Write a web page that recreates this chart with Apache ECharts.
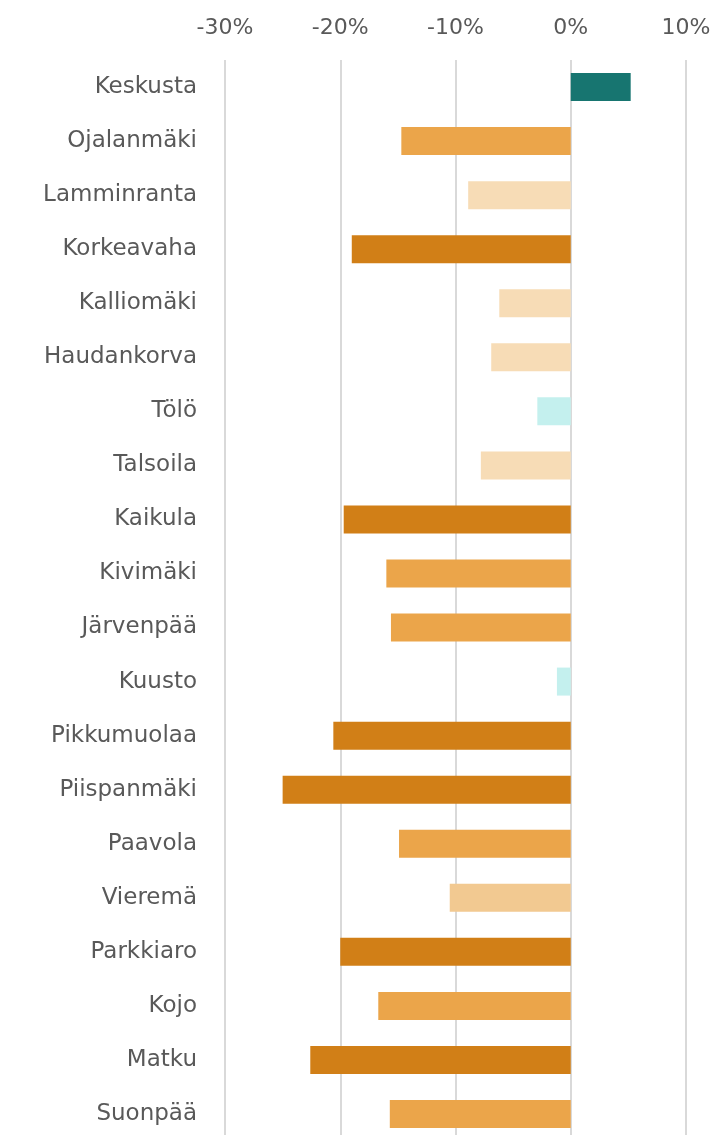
<!DOCTYPE html>
<html><head><meta charset="utf-8">
<script src="https://cdn.jsdelivr.net/npm/echarts@6/dist/echarts.min.js"></script>
<style>html,body{margin:0;padding:0;background:#fff;overflow:hidden}#c{width:714px;height:1141px}</style>
</head><body><div id="c"></div>
<script>
const categories = ["Keskusta","Ojalanmäki","Lamminranta","Korkeavaha","Kalliomäki","Haudankorva","Tölö","Talsoila","Kaikula","Kivimäki","Järvenpää","Kuusto","Pikkumuolaa","Piispanmäki","Paavola","Vieremä","Parkkiaro","Kojo","Matku","Suonpää"];
const values = [5.2,-14.7,-8.9,-19.0,-6.2,-6.9,-2.9,-7.8,-19.7,-16.0,-15.6,-1.2,-20.6,-25.0,-14.9,-10.5,-20.0,-16.7,-22.6,-15.7];
const groups = ["teal","orange","light","dark","light","light","cyan","light","dark","orange","orange","cyan","dark","dark","orange","mid","dark","orange","dark","orange"];
const tickValues = [-30,-20,-10,0,10];
const palette = {teal:"#177570",dark:"#d17f17",orange:"#eba54a",light:"#f7dcb6",mid:"#f2c991",cyan:"#c4f0ee"};

const chart = echarts.init(document.getElementById('c'));
chart.setOption({
  animation:false,
  grid:{left:225,right:28,top:60,bottom:0,containLabel:false},
  xAxis:{type:'value',position:'top',min:tickValues[0],max:tickValues[tickValues.length-1],interval:10,
    axisLine:{show:false},axisTick:{show:false},
    splitLine:{lineStyle:{color:'#d9d9d9',width:2}},
    axisLabel:{formatter:v=>v+'%',color:'#595959',fontSize:22,fontFamily:'DejaVu Sans',margin:21}},
  yAxis:{type:'category',data:categories,inverse:true,
    axisLine:{show:false},axisTick:{show:false},
    axisLabel:{color:'#595959',fontSize:23,fontFamily:'DejaVu Sans',margin:28}},
  series:[{type:'bar',barWidth:28,
    data:values.map((v,i)=>({value:v,itemStyle:{color:palette[groups[i]]}}))}]
});
</script></body></html>
